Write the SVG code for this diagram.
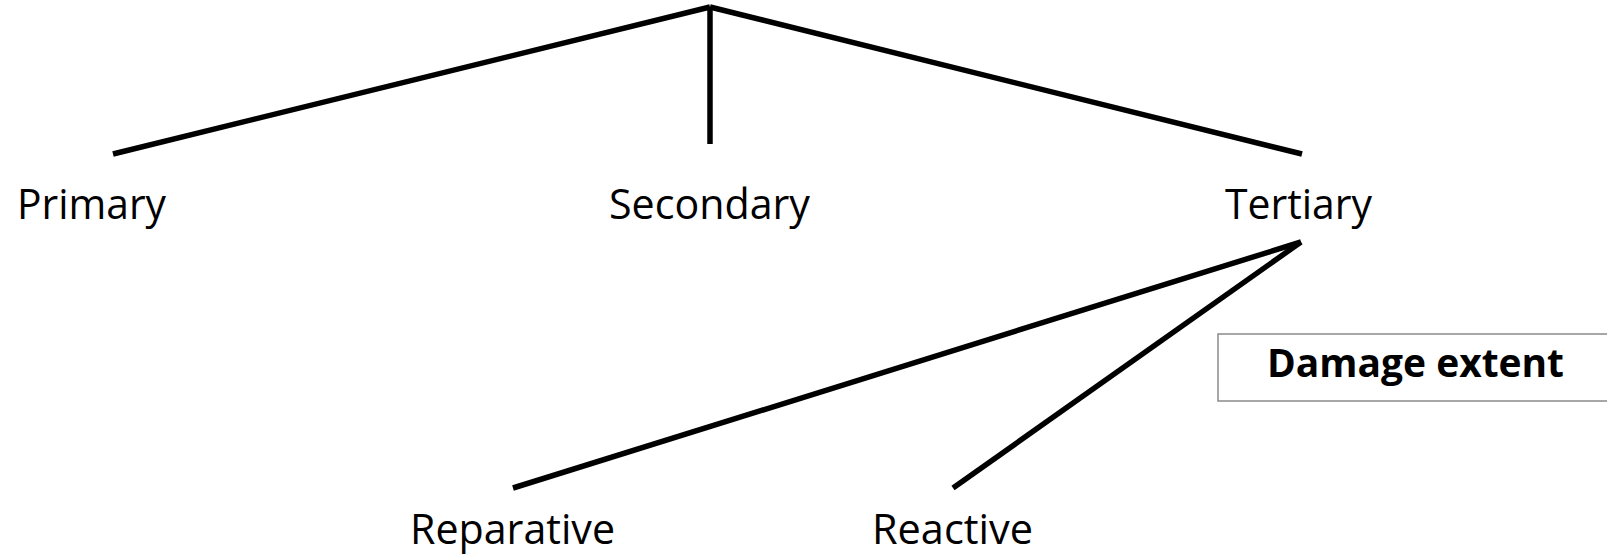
<svg xmlns="http://www.w3.org/2000/svg" width="1607" height="557" viewBox="0 0 1607 557">
<style>
.c{stroke:#000;stroke-width:5.5;fill:none}
.t{font-family:"Open Sans","Liberation Sans",sans-serif;font-size:42px;fill:#000}
.b{font-weight:bold;font-size:40px}
</style>
<rect width="1607" height="557" fill="#fff"/>
<g id="connectors">
<line class="c" x1="710" y1="7" x2="113" y2="154"/>
<line class="c" x1="710" y1="7" x2="710" y2="144"/>
<line class="c" x1="710" y1="7" x2="1302" y2="154"/>
<line class="c" x1="1301" y1="242" x2="513" y2="488"/>
<line class="c" x1="1301" y1="242" x2="953" y2="488"/>
</g>
<g id="primary"><text class="t" x="17" y="219" textLength="149" lengthAdjust="spacingAndGlyphs">Primary</text></g>
<g id="secondary"><text class="t" x="609" y="219" textLength="201" lengthAdjust="spacingAndGlyphs">Secondary</text></g>
<g id="tertiary"><text class="t" x="1225" y="219" textLength="147" lengthAdjust="spacingAndGlyphs">Tertiary</text></g>
<g id="reparative"><text class="t" x="410" y="544" textLength="205" lengthAdjust="spacingAndGlyphs">Reparative</text></g>
<g id="reactive"><text class="t" x="872" y="544" textLength="161" lengthAdjust="spacingAndGlyphs">Reactive</text></g>
<g id="damage">
<rect x="1218" y="334" width="400" height="67" fill="#fff" stroke="#8a8a8a" stroke-width="1.5"/>
<text class="t b" x="1267" y="377" textLength="297" lengthAdjust="spacingAndGlyphs">Damage extent</text>
</g>
</svg>
